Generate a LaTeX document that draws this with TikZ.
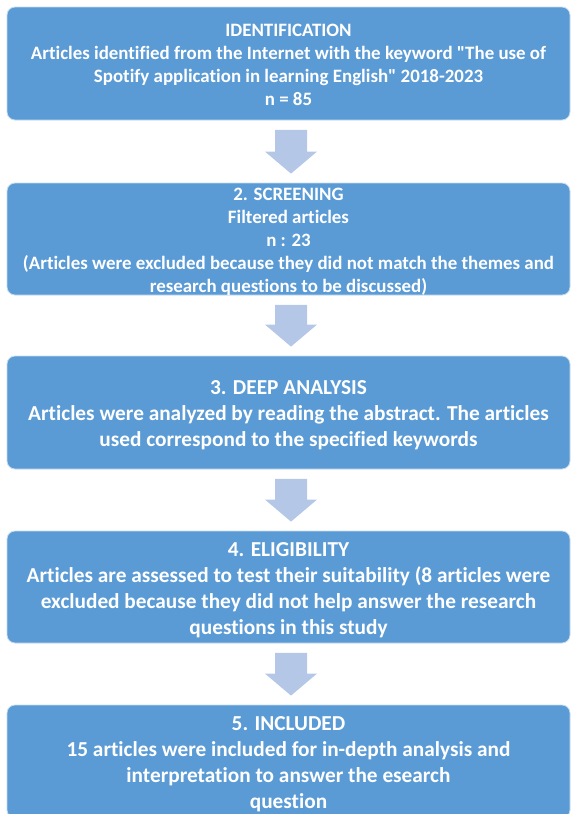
\documentclass[tikz,border=0pt]{standalone}
\usepackage{fontspec}
\setmainfont{Carlito}[Ligatures={NoCommon,TeXOff}]
\usetikzlibrary{calc}
\definecolor{boxblue}{HTML}{5B9BD5}
\definecolor{arrowblue}{HTML}{B4C7E7}
\tikzstyle{stage}=[rounded corners=8pt, fill=boxblue, draw=white!65!boxblue, line width=0.8pt,
  minimum width=563pt, text=white, align=center, inner sep=0pt]
\tikzstyle{small}=[font=\bfseries\fontsize{18.9}{23}\selectfont]
\tikzstyle{large}=[font=\bfseries\fontsize{21.3}{26}\selectfont]
\tikzstyle{flow}=[fill=arrowblue]

\begin{document}
\begin{tikzpicture}[x=1pt, y=-1pt]
    \clip (0,0) rectangle (571,814);
% Boxes
    \node[stage, small, minimum height=113pt] (ident) at (288.5,63.5) {\rule{0pt}{15.5pt}IDENTIFICATION\\
      Articles identified from the Internet with the keyword "The use of\\
      Spotify application in learning English" 2018-2023\\
      n = 85};
    \node[stage, small, minimum height=112pt] (screen) at (288.5,239) {\rule{0pt}{17pt}2. SCREENING\\
      Filtered articles\\
      n : 23\\
      (Articles were excluded because they did not match the themes and\\
      research questions to be discussed)};
    \node[stage, large, minimum height=113pt] (deep) at (288.5,412.5) {\rule{0pt}{19pt}3. DEEP ANALYSIS\\
      Articles were analyzed by reading the abstract. The articles\\
      used correspond to the specified keywords};
    \node[stage, large, minimum height=112pt] (elig) at (288.5,587) {\rule{0pt}{19.5pt}4. ELIGIBILITY\\
      Articles are assessed to test their suitability (8 articles were\\
      excluded because they did not help answer the research\\
      questions in this study};
    \node[stage, large, minimum height=113pt] (incl) at (288.5,761.5) {\rule{0pt}{19.5pt}5. INCLUDED\\
      15 articles were included for in-depth analysis and\\
      interpretation to answer the esearch\\
      question};
% Arrows
    \foreach \a/\b in {ident/screen, screen/deep, deep/elig, elig/incl}
      \fill[flow] ($(\a.south)+(-13.5,9.5)$) -- ($(\a.south)+(18.5,9.5)$)
        -- ($(\b.north)+(18.5,-31)$) -- ($(\b.north)+(28.5,-31)$)
        -- ($(\b.north)+(2.5,-9)$) -- ($(\b.north)+(-23.5,-31)$)
        -- ($(\b.north)+(-13.5,-31)$) -- cycle;
\end{tikzpicture}
\end{document}
